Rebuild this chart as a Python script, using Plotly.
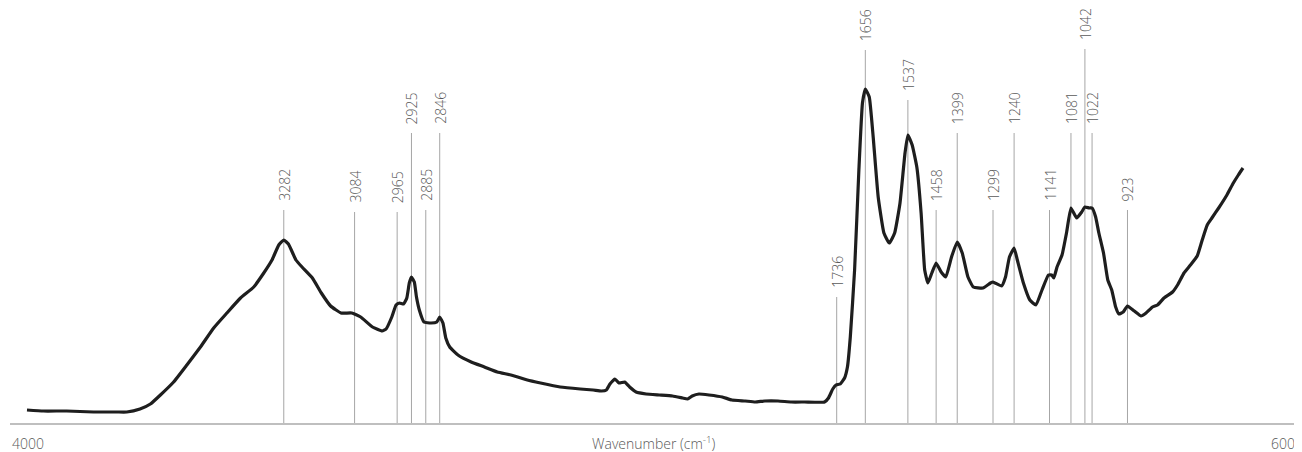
import plotly.graph_objects as go

# Spectrum (wavenumber in cm-1, absorbance in arbitrary units)
wavenumber = [4000, 3954, 3889, 3814, 3749, 3721, 3684, 3655, 3627, 3590, 3553, 3515, 3478, 3441, 3403,
              3366, 3338, 3315, 3296, 3282, 3269, 3248, 3231, 3202, 3177, 3151, 3122, 3092, 3067, 3034,
              3007, 2996, 2980, 2968, 2958, 2947, 2938, 2931, 2925, 2917, 2911, 2903, 2890, 2870, 2854,
              2846, 2837, 2829, 2818, 2795, 2758, 2721, 2685, 2647, 2601, 2564, 2509, 2453, 2417, 2394,
              2380, 2370, 2356, 2345, 2329, 2315, 2297, 2269, 2232, 2195, 2167, 2153, 2140, 2121, 2093,
              2056, 2029, 1992, 1964, 1937, 1900, 1863, 1826, 1770, 1759, 1747, 1738, 1726, 1714, 1706,
              1698, 1686, 1674, 1664, 1656, 1645, 1634, 1620, 1604, 1589, 1574, 1559, 1545, 1537, 1525,
              1512, 1500, 1490, 1481, 1470, 1458, 1444, 1431, 1415, 1399, 1385, 1369, 1354, 1327, 1306,
              1299, 1275, 1264, 1253, 1240, 1231, 1214, 1196, 1179, 1162, 1144, 1135, 1129, 1120, 1106,
              1093, 1081, 1065, 1051, 1042, 1030, 1022, 1012, 1003, 990, 978, 967, 956, 947, 935,
              923, 904, 885, 871, 853, 839, 821, 797, 783, 765, 747, 728, 714, 700, 687,
              668, 645, 627, 613, 600]
absorbance = [0.13, 0.12, 0.12, 0.11, 0.11, 0.11, 0.14, 0.19, 0.28, 0.41, 0.58, 0.76, 0.95, 1.10, 1.25,
              1.36, 1.50, 1.63, 1.78, 1.83, 1.79, 1.63, 1.56, 1.45, 1.30, 1.17, 1.10, 1.10, 1.06, 0.96,
              0.92, 0.94, 1.06, 1.18, 1.20, 1.19, 1.25, 1.40, 1.46, 1.41, 1.26, 1.13, 1.01, 1.00, 1.01,
              1.06, 1.00, 0.85, 0.76, 0.68, 0.61, 0.56, 0.51, 0.48, 0.43, 0.40, 0.36, 0.34, 0.33, 0.32,
              0.33, 0.39, 0.44, 0.40, 0.41, 0.36, 0.31, 0.29, 0.28, 0.27, 0.25, 0.24, 0.27, 0.29, 0.28,
              0.26, 0.23, 0.22, 0.21, 0.22, 0.22, 0.21, 0.21, 0.21, 0.25, 0.34, 0.38, 0.39, 0.45, 0.56,
              0.86, 1.53, 2.53, 3.20, 3.34, 3.26, 2.86, 2.26, 1.90, 1.80, 1.90, 2.20, 2.70, 2.88, 2.78,
              2.56, 2.10, 1.53, 1.40, 1.50, 1.60, 1.51, 1.46, 1.66, 1.81, 1.70, 1.46, 1.36, 1.35, 1.40,
              1.41, 1.37, 1.46, 1.66, 1.75, 1.63, 1.40, 1.23, 1.18, 1.33, 1.48, 1.48, 1.45, 1.56, 1.68,
              1.91, 2.15, 2.05, 2.11, 2.16, 2.15, 2.15, 2.06, 1.90, 1.70, 1.43, 1.33, 1.16, 1.09, 1.11,
              1.17, 1.12, 1.07, 1.10, 1.16, 1.18, 1.25, 1.31, 1.38, 1.50, 1.58, 1.67, 1.83, 1.98, 2.05,
              2.15, 2.28, 2.40, 2.48, 2.55]

# Marked peaks and the height of their marker lines
peak_wn = [3282, 3084, 2965, 2925, 2885, 2846, 1736, 1656, 1537, 1458, 1399, 1299, 1240, 1141, 1081, 1042, 1022, 923]
peak_top = [2.13, 2.11, 2.11, 2.90, 2.13, 2.90, 1.26, 3.73, 3.23, 2.13, 2.90, 2.13, 2.90, 2.13, 2.90, 3.74, 2.90, 2.13]

axis_end_labels = ["4000", "600"]
x_title = "Wavenumber (cm<sup>-1</sup>)"

assert len(wavenumber) == len(absorbance)

FONT = "Open Sans"
TXT = "#595959"

fig = go.Figure()

# marker lines
lx, ly = [], []
for w, t in zip(peak_wn, peak_top):
    lx += [w, w, None]
    ly += [0, t, None]
fig.add_trace(go.Scatter(x=lx, y=ly, mode="lines", line=dict(color="#a6a6a6", width=1),
                         hoverinfo="skip", showlegend=False))

fig.add_trace(go.Scatter(x=wavenumber, y=absorbance, mode="lines",
                         line=dict(color="#1e1e1e", width=3.2, shape="spline", smoothing=0.4),
                         showlegend=False))

for w, t in zip(peak_wn, peak_top):
    fig.add_annotation(x=w, y=t, text=str(w), textangle=-90, showarrow=False,
                       xanchor="center", yanchor="bottom", yshift=7,
                       font=dict(family=FONT, size=14, color=TXT, weight=300))

fig.add_annotation(xref="paper", yref="paper", x=0, y=0, text=axis_end_labels[0], showarrow=False,
                   xanchor="left", yanchor="middle", xshift=0, yshift=-20,
                   font=dict(family=FONT, size=14, color=TXT, weight=300))
fig.add_annotation(xref="paper", yref="paper", x=1, y=0, text=axis_end_labels[1], showarrow=False,
                   xanchor="right", yanchor="middle", xshift=-1, yshift=-20,
                   font=dict(family=FONT, size=14, color=TXT, weight=300))
fig.add_annotation(xref="paper", yref="paper", x=0.5, y=0, text=x_title, showarrow=False,
                   xanchor="center", yanchor="middle", yshift=-20,
                   font=dict(family=FONT, size=14, color=TXT, weight=300))

# the page adds an 8 px body margin, so the figure is made smaller to fit the window
fig.update_layout(
    width=1290, height=444,
    margin=dict(l=2, r=0, t=0, b=29),
    paper_bgcolor="white", plot_bgcolor="white",
    xaxis=dict(range=[4047.5, 446.2], showgrid=False, zeroline=False, showticklabels=False,
               ticks="", showline=True, linecolor="#bfbfbf", linewidth=2),
    yaxis=dict(range=[0, 4.15], visible=False),
)

fig.write_html("out.html")
